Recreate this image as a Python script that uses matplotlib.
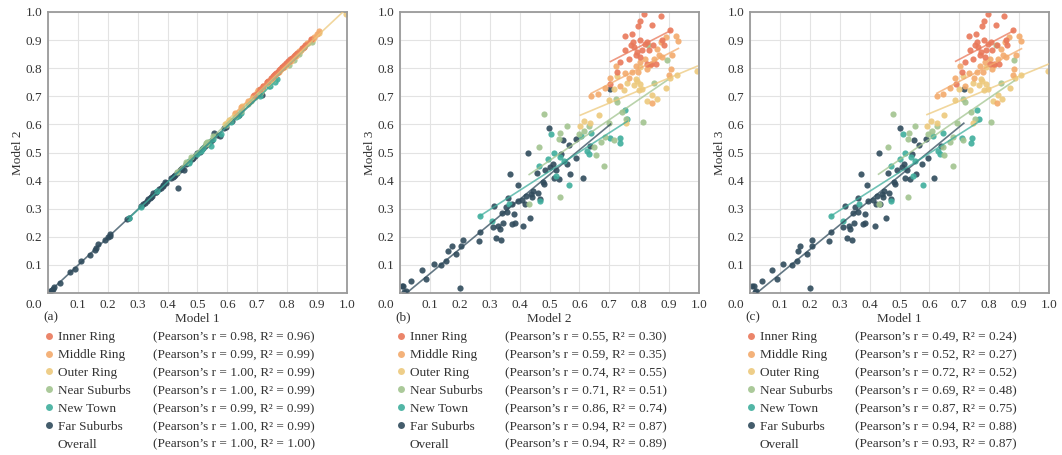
import matplotlib.pyplot as plt
import numpy as np
from matplotlib.lines import Line2D

plt.rcParams['font.family'] = ['Liberation Serif', 'DejaVu Serif']

groups = ['Inner Ring', 'Middle Ring', 'Outer Ring', 'Near Suburbs', 'New Town', 'Far Suburbs']
colors = ['#E9785A', '#F3AA6C', '#EDC97C', '#A2C48F', '#3FAE9D', '#304B5C']

# Inner Ring
ir_m1 = [0.688, 0.708, 0.718, 0.733, 0.735, 0.746, 0.752, 0.757, 0.760, 0.763, 0.768, 0.772, 0.776, 0.782, 0.784,
         0.785, 0.790, 0.795, 0.797, 0.804, 0.806, 0.810, 0.817, 0.822, 0.826, 0.834, 0.850, 0.855, 0.860, 0.880]
ir_m2 = [0.704, 0.726, 0.737, 0.751, 0.754, 0.765, 0.771, 0.777, 0.780, 0.782, 0.788, 0.793, 0.796, 0.803, 0.804,
         0.804, 0.810, 0.816, 0.818, 0.825, 0.827, 0.832, 0.838, 0.844, 0.847, 0.855, 0.872, 0.877, 0.883, 0.903]
ir_m3 = [0.745, 0.786, 0.822, 0.913, 0.864, 0.834, 0.881, 0.920, 0.893, 0.875, 0.848, 0.858, 0.951, 0.901, 0.968,
         0.840, 0.866, 0.994, 0.887, 0.816, 0.893, 0.864, 0.816, 0.953, 0.881, 0.816, 0.985, 0.899, 0.881, 0.937]

# Middle Ring
mr_m1 = [0.625, 0.645, 0.668, 0.685, 0.704, 0.720, 0.733, 0.748, 0.758, 0.770, 0.778, 0.786, 0.802, 0.808, 0.816,
         0.826, 0.830, 0.840, 0.846, 0.852, 0.856, 0.866, 0.878, 0.884, 0.890, 0.900, 0.908]
mr_m2 = [0.639, 0.661, 0.684, 0.702, 0.721, 0.737, 0.751, 0.765, 0.777, 0.788, 0.796, 0.804, 0.821, 0.827, 0.836,
         0.844, 0.849, 0.860, 0.866, 0.872, 0.877, 0.888, 0.899, 0.905, 0.911, 0.922, 0.931]
mr_m3 = [0.700, 0.709, 0.731, 0.766, 0.809, 0.735, 0.783, 0.765, 0.786, 0.807, 0.786, 0.822, 0.834, 0.798, 0.810,
         0.676, 0.834, 0.869, 0.846, 0.893, 0.840, 0.911, 0.775, 0.798, 0.846, 0.915, 0.897]

# Outer Ring
or_m1 = [0.592, 0.605, 0.625, 0.650, 0.684, 0.700, 0.712, 0.735, 0.745, 0.745, 0.766, 0.772, 0.776, 0.784, 0.788,
         0.790, 0.795, 0.812, 0.828, 0.842, 0.870, 0.885, 0.905, 0.998]
or_m2 = [0.603, 0.617, 0.637, 0.665, 0.698, 0.715, 0.726, 0.749, 0.757, 0.760, 0.782, 0.788, 0.793, 0.799, 0.804,
         0.804, 0.810, 0.827, 0.844, 0.860, 0.888, 0.903, 0.927, 0.994]
or_m3 = [0.593, 0.611, 0.605, 0.632, 0.688, 0.727, 0.771, 0.724, 0.605, 0.747, 0.739, 0.763, 0.753, 0.724, 0.743,
         0.804, 0.727, 0.682, 0.703, 0.692, 0.730, 0.765, 0.777, 0.789]

# Near Suburbs
ns_m1 = [0.430, 0.462, 0.478, 0.528, 0.530, 0.533, 0.552, 0.594, 0.610, 0.626, 0.645, 0.650, 0.668, 0.678, 0.680,
         0.692, 0.712, 0.714, 0.720, 0.738, 0.752, 0.806, 0.822, 0.840, 0.884]
ns_m2 = [0.432, 0.465, 0.483, 0.531, 0.534, 0.536, 0.559, 0.598, 0.615, 0.631, 0.648, 0.657, 0.673, 0.682, 0.687,
         0.698, 0.715, 0.721, 0.726, 0.743, 0.757, 0.813, 0.830, 0.849, 0.894]
ns_m3 = [0.316, 0.520, 0.636, 0.549, 0.342, 0.569, 0.593, 0.565, 0.575, 0.596, 0.520, 0.490, 0.536, 0.451, 0.555,
         0.606, 0.546, 0.692, 0.680, 0.644, 0.620, 0.609, 0.881, 0.747, 0.830]

# New Town
nt_m1 = [0.272, 0.310, 0.365, 0.470, 0.472, 0.500, 0.512, 0.520, 0.545, 0.540, 0.552, 0.580, 0.612, 0.630, 0.636,
         0.645, 0.708, 0.740, 0.742, 0.760, 0.766]
nt_m2 = [0.268, 0.307, 0.363, 0.464, 0.469, 0.495, 0.506, 0.516, 0.523, 0.536, 0.547, 0.565, 0.607, 0.626, 0.631,
         0.640, 0.702, 0.735, 0.737, 0.752, 0.760]
nt_m3 = [0.273, 0.256, 0.318, 0.452, 0.326, 0.477, 0.565, 0.498, 0.415, 0.484, 0.469, 0.383, 0.559, 0.504, 0.496,
         0.569, 0.552, 0.534, 0.553, 0.650, 0.620]

# Far Suburbs
fs_m1 = [0.008, 0.012, 0.016, 0.021, 0.040, 0.075, 0.090, 0.110, 0.140, 0.158, 0.162, 0.168, 0.190, 0.200, 0.206,
         0.209, 0.265, 0.270, 0.310, 0.318, 0.325, 0.330, 0.336, 0.342, 0.345, 0.348, 0.352, 0.360, 0.362, 0.372,
         0.436, 0.378, 0.385, 0.386, 0.396, 0.392, 0.412, 0.418, 0.420, 0.425, 0.430, 0.455, 0.442, 0.446, 0.448,
         0.462, 0.465, 0.470, 0.482, 0.485, 0.490, 0.500, 0.508, 0.515, 0.520, 0.525, 0.535, 0.542, 0.548, 0.575,
         0.566, 0.555, 0.590, 0.595, 0.615, 0.640, 0.715]
fs_m2 = [0.006, 0.011, 0.015, 0.020, 0.036, 0.073, 0.087, 0.114, 0.136, 0.154, 0.160, 0.173, 0.188, 0.199, 0.204,
         0.210, 0.263, 0.266, 0.311, 0.315, 0.322, 0.327, 0.334, 0.339, 0.341, 0.346, 0.355, 0.358, 0.360, 0.369,
         0.373, 0.375, 0.380, 0.383, 0.393, 0.394, 0.408, 0.413, 0.417, 0.421, 0.427, 0.436, 0.439, 0.441, 0.444,
         0.458, 0.461, 0.467, 0.478, 0.480, 0.486, 0.497, 0.503, 0.512, 0.516, 0.523, 0.531, 0.539, 0.544, 0.559,
         0.564, 0.570, 0.587, 0.590, 0.612, 0.634, 0.704]
fs_m3 = [0.024, 0.026, 0.004, 0.008, 0.042, 0.081, 0.051, 0.104, 0.098, 0.113, 0.149, 0.168, 0.140, 0.019, 0.166,
         0.190, 0.185, 0.216, 0.235, 0.308, 0.197, 0.237, 0.228, 0.190, 0.285, 0.249, 0.306, 0.287, 0.339, 0.422,
         0.318, 0.244, 0.282, 0.249, 0.326, 0.386, 0.330, 0.240, 0.316, 0.344, 0.498, 0.266, 0.354, 0.340, 0.362,
         0.427, 0.356, 0.336, 0.395, 0.387, 0.439, 0.587, 0.448, 0.460, 0.410, 0.437, 0.405, 0.495, 0.546, 0.458,
         0.527, 0.423, 0.548, 0.482, 0.410, 0.523, 0.727]

model1 = [ir_m1, mr_m1, or_m1, ns_m1, nt_m1, fs_m1]
model2 = [ir_m2, mr_m2, or_m2, ns_m2, nt_m2, fs_m2]
model3 = [ir_m3, mr_m3, or_m3, ns_m3, nt_m3, fs_m3]

# Pearson's r and R^2 per group (last row = Overall)
stats_a = [(0.98, 0.96), (0.99, 0.99), (1.00, 0.99), (1.00, 0.99), (0.99, 0.99), (1.00, 0.99), (1.00, 1.00)]
stats_b = [(0.55, 0.30), (0.59, 0.35), (0.74, 0.55), (0.71, 0.51), (0.86, 0.74), (0.94, 0.87), (0.94, 0.89)]
stats_c = [(0.49, 0.24), (0.52, 0.27), (0.72, 0.52), (0.69, 0.48), (0.87, 0.75), (0.94, 0.88), (0.93, 0.87)]

panels = [('(a)', 'Model 1', 'Model 2', model1, model2, stats_a),
          ('(b)', 'Model 2', 'Model 3', model2, model3, stats_b),
          ('(c)', 'Model 1', 'Model 3', model1, model3, stats_c)]

W, H = 1062, 455
fig = plt.figure(figsize=(W / 100, H / 100), dpi=100)
lefts = [48, 400, 750]
ticks = np.round(np.arange(0, 1.01, 0.1), 1)
ticklabels = [''] + ['%.1f' % t for t in ticks[1:]]
fs = 9.5
txt = '#333333'

for (tag, xl, yl, xs, ys, st), left in zip(panels, lefts):
    ax = fig.add_axes([left / W, 1 - 293 / H, 299 / W, 281 / H])
    for i in range(len(groups) - 1, -1, -1):
        x = np.array(xs[i])
        y = np.array(ys[i])
        ax.scatter(x, y, s=20, color=colors[i], alpha=0.9, linewidths=0, zorder=2)
        k, b = np.polyfit(x, y, 1)
        xx = np.array([x.min(), x.max()])
        ax.plot(xx, k * xx + b, color=colors[i], lw=1.2, alpha=0.75, zorder=3)
    ax.set_xlim(0, 1)
    ax.set_ylim(0, 1)
    ax.set_xticks(ticks)
    ax.set_yticks(ticks)
    ax.set_xticklabels(ticklabels)
    ax.set_yticklabels(ticklabels)
    ax.tick_params(length=0, labelsize=9.5, pad=4, colors=txt)
    ax.grid(color='#e3e3e3', lw=0.8)
    ax.set_axisbelow(True)
    for sp in ax.spines.values():
        sp.set_color('#9a9a9a')
        sp.set_linewidth(1.3)
    ax.annotate('0.0', xy=(0, 0), xycoords='axes fraction', xytext=(-4, -4),
                textcoords='offset points', ha='right', va='top', fontsize=9.5, color=txt)
    ax.set_xlabel(xl, fontsize=fs, labelpad=2, color=txt)
    ax.set_ylabel(yl, fontsize=fs, labelpad=1, color=txt)
    ax.annotate(tag, xy=(0, 0), xycoords='axes fraction', xytext=(-3, -13),
                textcoords='offset points', ha='left', va='top', fontsize=fs, color=txt)

    handles = [Line2D([], [], ls='none', marker='o', ms=5, mew=0, color=c, alpha=0.9) for c in colors]
    handles.append(Line2D([], [], ls='none'))
    top = 1 - 331 / H
    fig.legend(handles, groups + ['Overall'], loc='upper left',
               bbox_to_anchor=((left - 3) / W, top), bbox_transform=fig.transFigure,
               frameon=False, fontsize=fs, handlelength=0.6, handletextpad=0.35,
               borderpad=0, borderaxespad=0, labelspacing=0.43, labelcolor=txt)
    blank = [Line2D([], [], ls='none') for _ in st]
    labels = ['(Pearson\u2019s r = %.2f, R\u00b2 = %.2f)' % (r, r2) for r, r2 in st]
    fig.legend(blank, labels, loc='upper left',
               bbox_to_anchor=((left + 105) / W, top), bbox_transform=fig.transFigure,
               frameon=False, fontsize=fs, handlelength=0, handletextpad=0,
               borderpad=0, borderaxespad=0, labelspacing=0.43, labelcolor=txt)

fig.savefig('out.png', dpi=100)
